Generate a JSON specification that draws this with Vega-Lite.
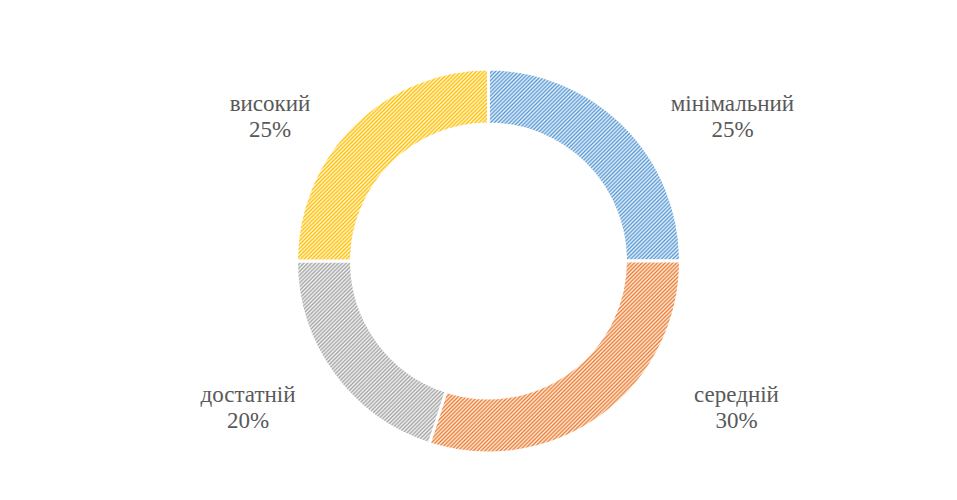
{
"$schema": "https://vega.github.io/schema/vega-lite/v6.json",
"width": 937, "height": 478,
"autosize": "none",
"padding": {"left": 20, "top": 22, "right": 0, "bottom": 0},
"background": "white",
"view": {"stroke": null},
"data": {"values": [
  {"level": "мінімальний", "value": 0.25},
  {"level": "середній", "value": 0.30},
  {"level": "достатній", "value": 0.20},
  {"level": "високий", "value": 0.25}
]},
"transform": [
  {"window": [{"op": "row_number", "as": "idx"}]},
  {"calculate": "datum.level + '\\n' + format(datum.value, '.0%')", "as": "label"}
],
"layer": [
  {
    "mark": {"type": "arc", "outerRadius": 192, "innerRadius": 137, "stroke": "white", "strokeWidth": 3},
    "encoding": {
      "theta": {"field": "value", "type": "quantitative", "stack": true},
      "order": {"field": "idx", "type": "quantitative"},
      "fill": {"condition": [
        {"test": "datum.level === 'мінімальний'", "value": "#5B9BD5"},
        {"test": "datum.level === 'середній'", "value": "#ED7D31"},
        {"test": "datum.level === 'достатній'", "value": "#A5A5A5"}
      ], "value": "#FFC000"}
    }
  },
  {
    "transform": [{"aggregate": [{"op": "sum", "field": "value", "as": "value"}]}],
    "mark": {"type": "arc", "outerRadius": 192, "innerRadius": 137, "fill": {"gradient": "linear", "x1": 0, "y1": 0, "x2": 1, "y2": 1, "stops": [
{"offset":0,"color":"#fffd"},{"offset":0.0025,"color":"#fff0"},{"offset":0.005,"color":"#fffd"},{"offset":0.0075,"color":"#fff0"},
{"offset":0.01,"color":"#fffd"},{"offset":0.0125,"color":"#fff0"},{"offset":0.015,"color":"#fffd"},{"offset":0.0175,"color":"#fff0"},
{"offset":0.02,"color":"#fffd"},{"offset":0.0225,"color":"#fff0"},{"offset":0.025,"color":"#fffd"},{"offset":0.0275,"color":"#fff0"},
{"offset":0.03,"color":"#fffd"},{"offset":0.0325,"color":"#fff0"},{"offset":0.035,"color":"#fffd"},{"offset":0.0375,"color":"#fff0"},
{"offset":0.04,"color":"#fffd"},{"offset":0.0425,"color":"#fff0"},{"offset":0.045,"color":"#fffd"},{"offset":0.0475,"color":"#fff0"},
{"offset":0.05,"color":"#fffd"},{"offset":0.0525,"color":"#fff0"},{"offset":0.055,"color":"#fffd"},{"offset":0.0575,"color":"#fff0"},
{"offset":0.06,"color":"#fffd"},{"offset":0.0625,"color":"#fff0"},{"offset":0.065,"color":"#fffd"},{"offset":0.0675,"color":"#fff0"},
{"offset":0.07,"color":"#fffd"},{"offset":0.0725,"color":"#fff0"},{"offset":0.075,"color":"#fffd"},{"offset":0.0775,"color":"#fff0"},
{"offset":0.08,"color":"#fffd"},{"offset":0.0825,"color":"#fff0"},{"offset":0.085,"color":"#fffd"},{"offset":0.0875,"color":"#fff0"},
{"offset":0.09,"color":"#fffd"},{"offset":0.0925,"color":"#fff0"},{"offset":0.095,"color":"#fffd"},{"offset":0.0975,"color":"#fff0"},
{"offset":0.1,"color":"#fffd"},{"offset":0.1025,"color":"#fff0"},{"offset":0.105,"color":"#fffd"},{"offset":0.1075,"color":"#fff0"},
{"offset":0.11,"color":"#fffd"},{"offset":0.1125,"color":"#fff0"},{"offset":0.115,"color":"#fffd"},{"offset":0.1175,"color":"#fff0"},
{"offset":0.12,"color":"#fffd"},{"offset":0.1225,"color":"#fff0"},{"offset":0.125,"color":"#fffd"},{"offset":0.1275,"color":"#fff0"},
{"offset":0.13,"color":"#fffd"},{"offset":0.1325,"color":"#fff0"},{"offset":0.135,"color":"#fffd"},{"offset":0.1375,"color":"#fff0"},
{"offset":0.14,"color":"#fffd"},{"offset":0.1425,"color":"#fff0"},{"offset":0.145,"color":"#fffd"},{"offset":0.1475,"color":"#fff0"},
{"offset":0.15,"color":"#fffd"},{"offset":0.1525,"color":"#fff0"},{"offset":0.155,"color":"#fffd"},{"offset":0.1575,"color":"#fff0"},
{"offset":0.16,"color":"#fffd"},{"offset":0.1625,"color":"#fff0"},{"offset":0.165,"color":"#fffd"},{"offset":0.1675,"color":"#fff0"},
{"offset":0.17,"color":"#fffd"},{"offset":0.1725,"color":"#fff0"},{"offset":0.175,"color":"#fffd"},{"offset":0.1775,"color":"#fff0"},
{"offset":0.18,"color":"#fffd"},{"offset":0.1825,"color":"#fff0"},{"offset":0.185,"color":"#fffd"},{"offset":0.1875,"color":"#fff0"},
{"offset":0.19,"color":"#fffd"},{"offset":0.1925,"color":"#fff0"},{"offset":0.195,"color":"#fffd"},{"offset":0.1975,"color":"#fff0"},
{"offset":0.2,"color":"#fffd"},{"offset":0.2025,"color":"#fff0"},{"offset":0.205,"color":"#fffd"},{"offset":0.2075,"color":"#fff0"},
{"offset":0.21,"color":"#fffd"},{"offset":0.2125,"color":"#fff0"},{"offset":0.215,"color":"#fffd"},{"offset":0.2175,"color":"#fff0"},
{"offset":0.22,"color":"#fffd"},{"offset":0.2225,"color":"#fff0"},{"offset":0.225,"color":"#fffd"},{"offset":0.2275,"color":"#fff0"},
{"offset":0.23,"color":"#fffd"},{"offset":0.2325,"color":"#fff0"},{"offset":0.235,"color":"#fffd"},{"offset":0.2375,"color":"#fff0"},
{"offset":0.24,"color":"#fffd"},{"offset":0.2425,"color":"#fff0"},{"offset":0.245,"color":"#fffd"},{"offset":0.2475,"color":"#fff0"},
{"offset":0.25,"color":"#fffd"},{"offset":0.2525,"color":"#fff0"},{"offset":0.255,"color":"#fffd"},{"offset":0.2575,"color":"#fff0"},
{"offset":0.26,"color":"#fffd"},{"offset":0.2625,"color":"#fff0"},{"offset":0.265,"color":"#fffd"},{"offset":0.2675,"color":"#fff0"},
{"offset":0.27,"color":"#fffd"},{"offset":0.2725,"color":"#fff0"},{"offset":0.275,"color":"#fffd"},{"offset":0.2775,"color":"#fff0"},
{"offset":0.28,"color":"#fffd"},{"offset":0.2825,"color":"#fff0"},{"offset":0.285,"color":"#fffd"},{"offset":0.2875,"color":"#fff0"},
{"offset":0.29,"color":"#fffd"},{"offset":0.2925,"color":"#fff0"},{"offset":0.295,"color":"#fffd"},{"offset":0.2975,"color":"#fff0"},
{"offset":0.3,"color":"#fffd"},{"offset":0.3025,"color":"#fff0"},{"offset":0.305,"color":"#fffd"},{"offset":0.3075,"color":"#fff0"},
{"offset":0.31,"color":"#fffd"},{"offset":0.3125,"color":"#fff0"},{"offset":0.315,"color":"#fffd"},{"offset":0.3175,"color":"#fff0"},
{"offset":0.32,"color":"#fffd"},{"offset":0.3225,"color":"#fff0"},{"offset":0.325,"color":"#fffd"},{"offset":0.3275,"color":"#fff0"},
{"offset":0.33,"color":"#fffd"},{"offset":0.3325,"color":"#fff0"},{"offset":0.335,"color":"#fffd"},{"offset":0.3375,"color":"#fff0"},
{"offset":0.34,"color":"#fffd"},{"offset":0.3425,"color":"#fff0"},{"offset":0.345,"color":"#fffd"},{"offset":0.3475,"color":"#fff0"},
{"offset":0.35,"color":"#fffd"},{"offset":0.3525,"color":"#fff0"},{"offset":0.355,"color":"#fffd"},{"offset":0.3575,"color":"#fff0"},
{"offset":0.36,"color":"#fffd"},{"offset":0.3625,"color":"#fff0"},{"offset":0.365,"color":"#fffd"},{"offset":0.3675,"color":"#fff0"},
{"offset":0.37,"color":"#fffd"},{"offset":0.3725,"color":"#fff0"},{"offset":0.375,"color":"#fffd"},{"offset":0.3775,"color":"#fff0"},
{"offset":0.38,"color":"#fffd"},{"offset":0.3825,"color":"#fff0"},{"offset":0.385,"color":"#fffd"},{"offset":0.3875,"color":"#fff0"},
{"offset":0.39,"color":"#fffd"},{"offset":0.3925,"color":"#fff0"},{"offset":0.395,"color":"#fffd"},{"offset":0.3975,"color":"#fff0"},
{"offset":0.4,"color":"#fffd"},{"offset":0.4025,"color":"#fff0"},{"offset":0.405,"color":"#fffd"},{"offset":0.4075,"color":"#fff0"},
{"offset":0.41,"color":"#fffd"},{"offset":0.4125,"color":"#fff0"},{"offset":0.415,"color":"#fffd"},{"offset":0.4175,"color":"#fff0"},
{"offset":0.42,"color":"#fffd"},{"offset":0.4225,"color":"#fff0"},{"offset":0.425,"color":"#fffd"},{"offset":0.4275,"color":"#fff0"},
{"offset":0.43,"color":"#fffd"},{"offset":0.4325,"color":"#fff0"},{"offset":0.435,"color":"#fffd"},{"offset":0.4375,"color":"#fff0"},
{"offset":0.44,"color":"#fffd"},{"offset":0.4425,"color":"#fff0"},{"offset":0.445,"color":"#fffd"},{"offset":0.4475,"color":"#fff0"},
{"offset":0.45,"color":"#fffd"},{"offset":0.4525,"color":"#fff0"},{"offset":0.455,"color":"#fffd"},{"offset":0.4575,"color":"#fff0"},
{"offset":0.46,"color":"#fffd"},{"offset":0.4625,"color":"#fff0"},{"offset":0.465,"color":"#fffd"},{"offset":0.4675,"color":"#fff0"},
{"offset":0.47,"color":"#fffd"},{"offset":0.4725,"color":"#fff0"},{"offset":0.475,"color":"#fffd"},{"offset":0.4775,"color":"#fff0"},
{"offset":0.48,"color":"#fffd"},{"offset":0.4825,"color":"#fff0"},{"offset":0.485,"color":"#fffd"},{"offset":0.4875,"color":"#fff0"},
{"offset":0.49,"color":"#fffd"},{"offset":0.4925,"color":"#fff0"},{"offset":0.495,"color":"#fffd"},{"offset":0.4975,"color":"#fff0"},
{"offset":0.5,"color":"#fffd"},{"offset":0.5025,"color":"#fff0"},{"offset":0.505,"color":"#fffd"},{"offset":0.5075,"color":"#fff0"},
{"offset":0.51,"color":"#fffd"},{"offset":0.5125,"color":"#fff0"},{"offset":0.515,"color":"#fffd"},{"offset":0.5175,"color":"#fff0"},
{"offset":0.52,"color":"#fffd"},{"offset":0.5225,"color":"#fff0"},{"offset":0.525,"color":"#fffd"},{"offset":0.5275,"color":"#fff0"},
{"offset":0.53,"color":"#fffd"},{"offset":0.5325,"color":"#fff0"},{"offset":0.535,"color":"#fffd"},{"offset":0.5375,"color":"#fff0"},
{"offset":0.54,"color":"#fffd"},{"offset":0.5425,"color":"#fff0"},{"offset":0.545,"color":"#fffd"},{"offset":0.5475,"color":"#fff0"},
{"offset":0.55,"color":"#fffd"},{"offset":0.5525,"color":"#fff0"},{"offset":0.555,"color":"#fffd"},{"offset":0.5575,"color":"#fff0"},
{"offset":0.56,"color":"#fffd"},{"offset":0.5625,"color":"#fff0"},{"offset":0.565,"color":"#fffd"},{"offset":0.5675,"color":"#fff0"},
{"offset":0.57,"color":"#fffd"},{"offset":0.5725,"color":"#fff0"},{"offset":0.575,"color":"#fffd"},{"offset":0.5775,"color":"#fff0"},
{"offset":0.58,"color":"#fffd"},{"offset":0.5825,"color":"#fff0"},{"offset":0.585,"color":"#fffd"},{"offset":0.5875,"color":"#fff0"},
{"offset":0.59,"color":"#fffd"},{"offset":0.5925,"color":"#fff0"},{"offset":0.595,"color":"#fffd"},{"offset":0.5975,"color":"#fff0"},
{"offset":0.6,"color":"#fffd"},{"offset":0.6025,"color":"#fff0"},{"offset":0.605,"color":"#fffd"},{"offset":0.6075,"color":"#fff0"},
{"offset":0.61,"color":"#fffd"},{"offset":0.6125,"color":"#fff0"},{"offset":0.615,"color":"#fffd"},{"offset":0.6175,"color":"#fff0"},
{"offset":0.62,"color":"#fffd"},{"offset":0.6225,"color":"#fff0"},{"offset":0.625,"color":"#fffd"},{"offset":0.6275,"color":"#fff0"},
{"offset":0.63,"color":"#fffd"},{"offset":0.6325,"color":"#fff0"},{"offset":0.635,"color":"#fffd"},{"offset":0.6375,"color":"#fff0"},
{"offset":0.64,"color":"#fffd"},{"offset":0.6425,"color":"#fff0"},{"offset":0.645,"color":"#fffd"},{"offset":0.6475,"color":"#fff0"},
{"offset":0.65,"color":"#fffd"},{"offset":0.6525,"color":"#fff0"},{"offset":0.655,"color":"#fffd"},{"offset":0.6575,"color":"#fff0"},
{"offset":0.66,"color":"#fffd"},{"offset":0.6625,"color":"#fff0"},{"offset":0.665,"color":"#fffd"},{"offset":0.6675,"color":"#fff0"},
{"offset":0.67,"color":"#fffd"},{"offset":0.6725,"color":"#fff0"},{"offset":0.675,"color":"#fffd"},{"offset":0.6775,"color":"#fff0"},
{"offset":0.68,"color":"#fffd"},{"offset":0.6825,"color":"#fff0"},{"offset":0.685,"color":"#fffd"},{"offset":0.6875,"color":"#fff0"},
{"offset":0.69,"color":"#fffd"},{"offset":0.6925,"color":"#fff0"},{"offset":0.695,"color":"#fffd"},{"offset":0.6975,"color":"#fff0"},
{"offset":0.7,"color":"#fffd"},{"offset":0.7025,"color":"#fff0"},{"offset":0.705,"color":"#fffd"},{"offset":0.7075,"color":"#fff0"},
{"offset":0.71,"color":"#fffd"},{"offset":0.7125,"color":"#fff0"},{"offset":0.715,"color":"#fffd"},{"offset":0.7175,"color":"#fff0"},
{"offset":0.72,"color":"#fffd"},{"offset":0.7225,"color":"#fff0"},{"offset":0.725,"color":"#fffd"},{"offset":0.7275,"color":"#fff0"},
{"offset":0.73,"color":"#fffd"},{"offset":0.7325,"color":"#fff0"},{"offset":0.735,"color":"#fffd"},{"offset":0.7375,"color":"#fff0"},
{"offset":0.74,"color":"#fffd"},{"offset":0.7425,"color":"#fff0"},{"offset":0.745,"color":"#fffd"},{"offset":0.7475,"color":"#fff0"},
{"offset":0.75,"color":"#fffd"},{"offset":0.7525,"color":"#fff0"},{"offset":0.755,"color":"#fffd"},{"offset":0.7575,"color":"#fff0"},
{"offset":0.76,"color":"#fffd"},{"offset":0.7625,"color":"#fff0"},{"offset":0.765,"color":"#fffd"},{"offset":0.7675,"color":"#fff0"},
{"offset":0.77,"color":"#fffd"},{"offset":0.7725,"color":"#fff0"},{"offset":0.775,"color":"#fffd"},{"offset":0.7775,"color":"#fff0"},
{"offset":0.78,"color":"#fffd"},{"offset":0.7825,"color":"#fff0"},{"offset":0.785,"color":"#fffd"},{"offset":0.7875,"color":"#fff0"},
{"offset":0.79,"color":"#fffd"},{"offset":0.7925,"color":"#fff0"},{"offset":0.795,"color":"#fffd"},{"offset":0.7975,"color":"#fff0"},
{"offset":0.8,"color":"#fffd"},{"offset":0.8025,"color":"#fff0"},{"offset":0.805,"color":"#fffd"},{"offset":0.8075,"color":"#fff0"},
{"offset":0.81,"color":"#fffd"},{"offset":0.8125,"color":"#fff0"},{"offset":0.815,"color":"#fffd"},{"offset":0.8175,"color":"#fff0"},
{"offset":0.82,"color":"#fffd"},{"offset":0.8225,"color":"#fff0"},{"offset":0.825,"color":"#fffd"},{"offset":0.8275,"color":"#fff0"},
{"offset":0.83,"color":"#fffd"},{"offset":0.8325,"color":"#fff0"},{"offset":0.835,"color":"#fffd"},{"offset":0.8375,"color":"#fff0"},
{"offset":0.84,"color":"#fffd"},{"offset":0.8425,"color":"#fff0"},{"offset":0.845,"color":"#fffd"},{"offset":0.8475,"color":"#fff0"},
{"offset":0.85,"color":"#fffd"},{"offset":0.8525,"color":"#fff0"},{"offset":0.855,"color":"#fffd"},{"offset":0.8575,"color":"#fff0"},
{"offset":0.86,"color":"#fffd"},{"offset":0.8625,"color":"#fff0"},{"offset":0.865,"color":"#fffd"},{"offset":0.8675,"color":"#fff0"},
{"offset":0.87,"color":"#fffd"},{"offset":0.8725,"color":"#fff0"},{"offset":0.875,"color":"#fffd"},{"offset":0.8775,"color":"#fff0"},
{"offset":0.88,"color":"#fffd"},{"offset":0.8825,"color":"#fff0"},{"offset":0.885,"color":"#fffd"},{"offset":0.8875,"color":"#fff0"},
{"offset":0.89,"color":"#fffd"},{"offset":0.8925,"color":"#fff0"},{"offset":0.895,"color":"#fffd"},{"offset":0.8975,"color":"#fff0"},
{"offset":0.9,"color":"#fffd"},{"offset":0.9025,"color":"#fff0"},{"offset":0.905,"color":"#fffd"},{"offset":0.9075,"color":"#fff0"},
{"offset":0.91,"color":"#fffd"},{"offset":0.9125,"color":"#fff0"},{"offset":0.915,"color":"#fffd"},{"offset":0.9175,"color":"#fff0"},
{"offset":0.92,"color":"#fffd"},{"offset":0.9225,"color":"#fff0"},{"offset":0.925,"color":"#fffd"},{"offset":0.9275,"color":"#fff0"},
{"offset":0.93,"color":"#fffd"},{"offset":0.9325,"color":"#fff0"},{"offset":0.935,"color":"#fffd"},{"offset":0.9375,"color":"#fff0"},
{"offset":0.94,"color":"#fffd"},{"offset":0.9425,"color":"#fff0"},{"offset":0.945,"color":"#fffd"},{"offset":0.9475,"color":"#fff0"},
{"offset":0.95,"color":"#fffd"},{"offset":0.9525,"color":"#fff0"},{"offset":0.955,"color":"#fffd"},{"offset":0.9575,"color":"#fff0"},
{"offset":0.96,"color":"#fffd"},{"offset":0.9625,"color":"#fff0"},{"offset":0.965,"color":"#fffd"},{"offset":0.9675,"color":"#fff0"},
{"offset":0.97,"color":"#fffd"},{"offset":0.9725,"color":"#fff0"},{"offset":0.975,"color":"#fffd"},{"offset":0.9775,"color":"#fff0"},
{"offset":0.98,"color":"#fffd"},{"offset":0.9825,"color":"#fff0"},{"offset":0.985,"color":"#fffd"},{"offset":0.9875,"color":"#fff0"},
{"offset":0.99,"color":"#fffd"},{"offset":0.9925,"color":"#fff0"},{"offset":0.995,"color":"#fffd"},{"offset":0.9975,"color":"#fff0"},
{"offset":1,"color":"#fffd"}
    ]}},
    "encoding": {"theta": {"field": "value", "type": "quantitative", "stack": true}}
  },
  {
    "mark": {"type": "text", "radius": 290.4, "thetaOffset": 0.2122, "font": "Liberation Serif", "fontSize": 23, "lineBreak": "\n", "lineHeight": 26, "fill": "#595959", "align": "center", "baseline": "middle"},
    "encoding": {
      "theta": {"field": "value", "type": "quantitative", "stack": true},
      "order": {"field": "idx", "type": "quantitative"},
      "text": {"field": "label"},
      "opacity": {"condition": {"test": "datum.level === 'мінімальний'", "value": 1}, "value": 0}
    }
  },
  {
    "mark": {"type": "text", "radius": 282.1, "thetaOffset": -0.4456, "font": "Liberation Serif", "fontSize": 23, "lineBreak": "\n", "lineHeight": 26, "fill": "#595959", "align": "center", "baseline": "middle"},
    "encoding": {
      "theta": {"field": "value", "type": "quantitative", "stack": true},
      "order": {"field": "idx", "type": "quantitative"},
      "text": {"field": "label"},
      "opacity": {"condition": {"test": "datum.level === 'середній'", "value": 1}, "value": 0}
    }
  },
  {
    "mark": {"type": "text", "radius": 275.1, "thetaOffset": 0.1216, "font": "Liberation Serif", "fontSize": 23, "lineBreak": "\n", "lineHeight": 26, "fill": "#595959", "align": "center", "baseline": "middle"},
    "encoding": {
      "theta": {"field": "value", "type": "quantitative", "stack": true},
      "order": {"field": "idx", "type": "quantitative"},
      "text": {"field": "label"},
      "opacity": {"condition": {"test": "datum.level === 'достатній'", "value": 1}, "value": 0}
    }
  },
  {
    "mark": {"type": "text", "radius": 269.1, "thetaOffset": -0.1623, "font": "Liberation Serif", "fontSize": 23, "lineBreak": "\n", "lineHeight": 26, "fill": "#595959", "align": "center", "baseline": "middle"},
    "encoding": {
      "theta": {"field": "value", "type": "quantitative", "stack": true},
      "order": {"field": "idx", "type": "quantitative"},
      "text": {"field": "label"},
      "opacity": {"condition": {"test": "datum.level === 'високий'", "value": 1}, "value": 0}
    }
  }
]
}
